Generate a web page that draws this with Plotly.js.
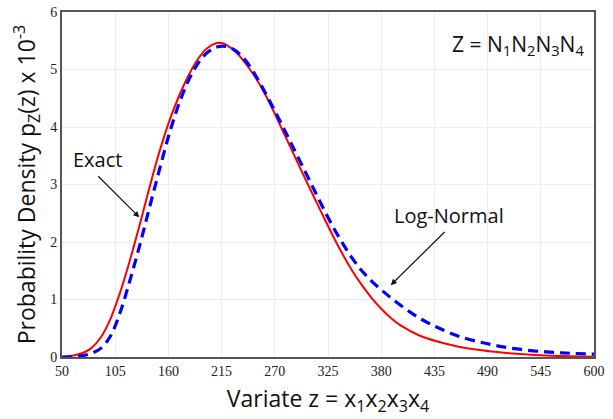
<!DOCTYPE html>
<html>
<head>
<meta charset="utf-8">
<script src="https://cdn.plot.ly/plotly-3.0.1.min.js"></script>
<style>html,body{margin:0;padding:0;background:#fff;}#chart{width:613px;height:419px;}</style>
</head>
<body>
<div id="chart"></div>
<script>
// Exact density (x 10^-3)
const exactX = [50, 60, 70, 80, 90, 100, 110, 120, 130, 140, 150, 160, 170, 180, 190, 200, 210, 215, 220, 230, 240, 250, 260, 270, 280, 290, 300, 310, 320, 330, 340, 350, 360, 370, 380, 390, 400, 420, 440, 460, 480, 500, 520, 550, 575, 600];
const exactY = [0.0, 0.02, 0.06, 0.15, 0.34, 0.66, 1.12, 1.67, 2.28, 2.92, 3.53, 4.06, 4.50, 4.87, 5.17, 5.37, 5.46, 5.46, 5.43, 5.30, 5.10, 4.86, 4.57, 4.23, 3.87, 3.51, 3.15, 2.80, 2.45, 2.11, 1.79, 1.50, 1.25, 1.03, 0.84, 0.68, 0.55, 0.37, 0.26, 0.18, 0.125, 0.085, 0.055, 0.025, 0.012, 0.005];
// Log-normal approximation (x 10^-3)
const logX = [50, 60, 70, 80, 90, 100, 110, 120, 130, 140, 150, 160, 170, 180, 190, 200, 210, 220, 230, 240, 250, 260, 270, 280, 290, 300, 310, 320, 330, 340, 350, 360, 370, 380, 390, 400, 410, 420, 430, 440, 460, 490, 520, 550, 575, 600];
const logY = [0.0, 0.0, 0.02, 0.06, 0.15, 0.36, 0.77, 1.32, 1.92, 2.57, 3.21, 3.83, 4.36, 4.78, 5.09, 5.29, 5.39, 5.40, 5.32, 5.15, 4.90, 4.60, 4.28, 3.95, 3.61, 3.27, 2.93, 2.59, 2.27, 1.98, 1.72, 1.50, 1.32, 1.17, 1.03, 0.90, 0.78, 0.67, 0.58, 0.50, 0.36, 0.23, 0.14, 0.09, 0.065, 0.05];
const xTicks = [50, 105, 160, 215, 270, 325, 380, 435, 490, 545, 600];
const yTicks = [0, 1, 2, 3, 4, 5, 6];

const titleFont = {family: 'Open Sans, Liberation Sans, sans-serif', size: 23, color: '#111'};
const annFont = {family: 'Open Sans, sans-serif', size: 20, color: '#111'};
const data = [
  {x: exactX, y: exactY, type: 'scatter', mode: 'lines', name: 'Exact',
   line: {color: '#ff0000', width: 2, shape: 'spline', smoothing: 1}},
  {x: logX, y: logY, type: 'scatter', mode: 'lines', name: 'Log-Normal',
   line: {color: '#0000ff', width: 3.2, dash: '10px,6px', shape: 'spline', smoothing: 1}}
];
const layout = {
  width: 613, height: 419,
  margin: {l: 62, r: 19, t: 12, b: 62},
  paper_bgcolor: '#fff', plot_bgcolor: '#fff',
  showlegend: false,
  xaxis: {
    range: [50, 600], tickvals: xTicks, ticktext: xTicks.map(String),
    showgrid: true, gridcolor: '#eeeeee', gridwidth: 1, zeroline: false,
    showline: true, linecolor: '#555', linewidth: 2, mirror: true, ticks: '',
    tickfont: {family: 'Liberation Serif, Times New Roman, serif', size: 14, color: '#222'},
    title: {text: 'Variate z = x<sub>1</sub>x<sub>2</sub>x<sub>3</sub>x<sub>4</sub>', font: titleFont, standoff: 13}
  },
  yaxis: {
    range: [0, 6], tickvals: yTicks, ticktext: yTicks.map(String),
    showgrid: true, gridcolor: '#eeeeee', gridwidth: 1, zeroline: false,
    showline: true, linecolor: '#555', linewidth: 2, mirror: true, ticks: '',
    tickfont: {family: 'Liberation Serif, Times New Roman, serif', size: 14, color: '#222'},
    title: {text: 'Probability Density p<sub>Z</sub>(z) x 10<sup>-3</sup>', font: titleFont, standoff: 8}
  },
  annotations: [
    {x: 129.9, y: 2.43, xref: 'x', yref: 'y', text: '', showarrow: true,
     arrowhead: 2, arrowsize: 1, arrowwidth: 1.2, arrowcolor: '#111',
     ax: 85.9, ay: 3.17, axref: 'x', ayref: 'y', standoff: 0},
    {x: 87, y: 3.44, xref: 'x', yref: 'y', text: 'Exact', showarrow: false, font: annFont},
    {x: 389.9, y: 1.25, xref: 'x', yref: 'y', text: '', showarrow: true,
     arrowhead: 2, arrowsize: 1, arrowwidth: 1.2, arrowcolor: '#111',
     ax: 447.1, ay: 2.2, axref: 'x', ayref: 'y', standoff: 0},
    {x: 450.2, y: 2.46, xref: 'x', yref: 'y', text: 'Log-Normal', showarrow: false, font: annFont},
    {xref: 'paper', yref: 'paper', x: 0.985, y: 0.904, xanchor: 'right', yanchor: 'middle',
     text: 'Z = N<sub>1</sub>N<sub>2</sub>N<sub>3</sub>N<sub>4</sub>', showarrow: false,
     font: {family: 'Open Sans, sans-serif', size: 21, color: '#111'}}
  ]
};
Plotly.newPlot('chart', data, layout, {displayModeBar: false, staticPlot: true});
</script>
</body>
</html>
